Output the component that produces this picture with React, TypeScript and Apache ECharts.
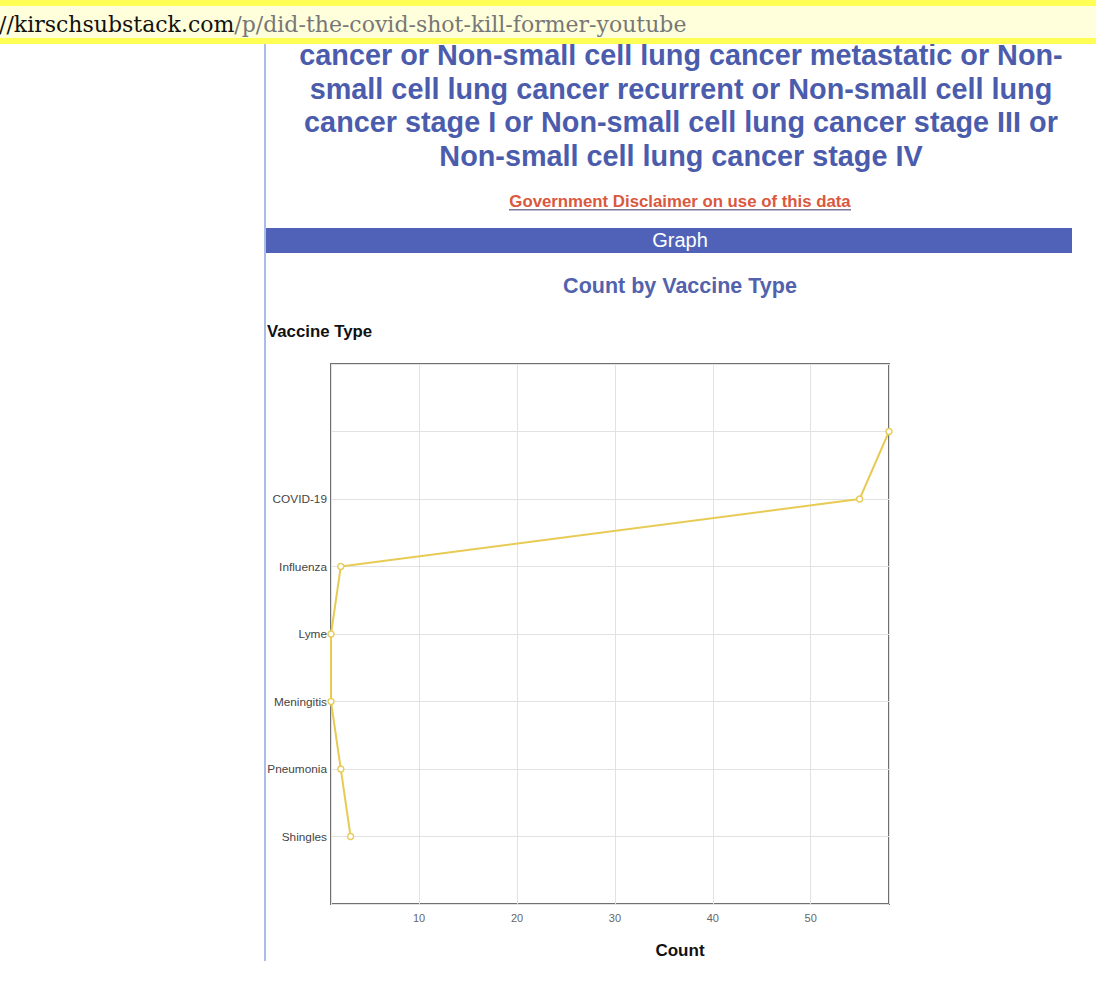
import React, { useEffect, useRef } from "react";
import * as echarts from "echarts";

const urlHost = "//kirschsubstack.com";
const urlPath = "/p/did-the-covid-shot-kill-former-youtube";
const titleLines = [
  "cancer or Non-small cell lung cancer metastatic or Non-",
  "small cell lung cancer recurrent or Non-small cell lung",
  "cancer stage I or Non-small cell lung cancer stage III or",
  "Non-small cell lung cancer stage IV",
];
const disclaimer = "Government Disclaimer on use of this data";
const barLabel = "Graph";
const chartTitle = "Count by Vaccine Type";
const yAxisTitle = "Vaccine Type";
const xAxisTitle = "Count";

const categories = ["", "COVID-19", "Influenza", "Lyme", "Meningitis", "Pneumonia", "Shingles"];
const counts = [58, 55, 2, 1, 1, 2, 3];
const xMin = 1;
const xMax = 58;

export default function App() {
  const ref = useRef<HTMLDivElement>(null);
  useEffect(() => {
    const chart = echarts.init(ref.current!, null, { renderer: "svg" });
    const yData = [" ", ...categories, "  "];
    const sData = [null, ...counts, null];
    const titleFont = 'bold 28.8px "Liberation Sans", Arial, sans-serif';
    chart.setOption({
      animation: false,
      backgroundColor: "#ffffff",
      grid: {
        left: 331,
        top: 364,
        right: 207,
        bottom: 78,
        show: true,
        borderColor: "#707070",
        borderWidth: 2,
        containLabel: false,
      },
      xAxis: {
        type: "value",
        min: xMin,
        max: xMax,
        axisLine: { show: false },
        axisTick: { show: false },
        axisLabel: {
          showMinLabel: false,
          showMaxLabel: false,
          color: "#666666",
          fontSize: 11,
          fontFamily: '"Liberation Sans", Arial, sans-serif',
          margin: 8,
        },
        splitLine: { show: true, lineStyle: { color: "#e2e2e2", width: 1 } },
      },
      yAxis: {
        type: "category",
        inverse: true,
        boundaryGap: false,
        data: yData,
        axisLine: { show: false },
        axisTick: { show: false },
        axisLabel: {
          color: "#444444",
          fontSize: 11.8,
          fontFamily: '"Liberation Sans", Arial, sans-serif',
          margin: 4,
        },
        splitLine: { show: true, lineStyle: { color: "#e2e2e2", width: 1 } },
      },
      series: [
        {
          type: "line",
          data: sData,
          connectNulls: false,
          symbol: "circle",
          symbolSize: 6,
          showSymbol: true,
          lineStyle: { color: "#e8cb55", width: 2 },
          itemStyle: { color: "#ffffff", borderColor: "#e8cb55", borderWidth: 1.5 },
          z: 5,
        },
      ],
      graphic: [
        { type: "rect", shape: { x: 264, y: 44, width: 2, height: 917 }, style: { fill: "#a9bde8" }, z: 1 },
        ...titleLines.map((t, i) => ({
          type: "text",
          x: 681,
          y: 55 + i * 33.7,
          style: { text: t, font: titleFont, fill: "#4b5cad", align: "center", verticalAlign: "middle" },
          z: 1,
        })),
        {
          type: "text",
          x: 680,
          y: 201,
          style: {
            text: disclaimer,
            font: 'bold 16.8px "Liberation Sans", Arial, sans-serif',
            fill: "#d9583e",
            align: "center",
            verticalAlign: "middle",
          },
        },
        { type: "rect", shape: { x: 509, y: 209, width: 342, height: 1.5 }, style: { fill: "#7d7a9a" } },
        { type: "rect", shape: { x: 266, y: 228, width: 806, height: 25 }, style: { fill: "#4f62b8" } },
        {
          type: "text",
          x: 680,
          y: 240,
          style: {
            text: barLabel,
            font: '20px "Liberation Sans", Arial, sans-serif',
            fill: "#ffffff",
            align: "center",
            verticalAlign: "middle",
          },
        },
        {
          type: "text",
          x: 680,
          y: 286,
          style: {
            text: chartTitle,
            font: 'bold 21.5px "Liberation Sans", Arial, sans-serif',
            fill: "#5262ad",
            align: "center",
            verticalAlign: "middle",
          },
        },
        {
          type: "text",
          x: 267,
          y: 331,
          style: {
            text: yAxisTitle,
            font: 'bold 16.8px "Liberation Sans", Arial, sans-serif',
            fill: "#111111",
            align: "left",
            verticalAlign: "middle",
          },
        },
        {
          type: "text",
          x: 680,
          y: 950,
          style: {
            text: xAxisTitle,
            font: 'bold 17px "Liberation Sans", Arial, sans-serif',
            fill: "#111111",
            align: "center",
            verticalAlign: "middle",
          },
        },
        { type: "rect", shape: { x: 0, y: 0, width: 1096, height: 44 }, style: { fill: "#ffff55" }, z: 10 },
        { type: "rect", shape: { x: 0, y: 6, width: 1096, height: 32 }, style: { fill: "#ffffdc" }, z: 10 },
        {
          type: "text",
          x: -1,
          y: 24,
          z: 11,
          style: {
            text: "{h|" + urlHost + "}{p|" + urlPath + "}",
            verticalAlign: "middle",
            rich: {
              h: { font: '22px "DejaVu Serif", serif', fill: "#111111" },
              p: { font: '22px "DejaVu Serif", serif', fill: "#777777" },
            },
          },
        },
      ],
    });
    return () => chart.dispose();
  }, []);
  return (
    <div
      ref={ref}
      style={{ position: "fixed", left: 0, top: 0, width: 1096, height: 982 }}
    />
  );
}
